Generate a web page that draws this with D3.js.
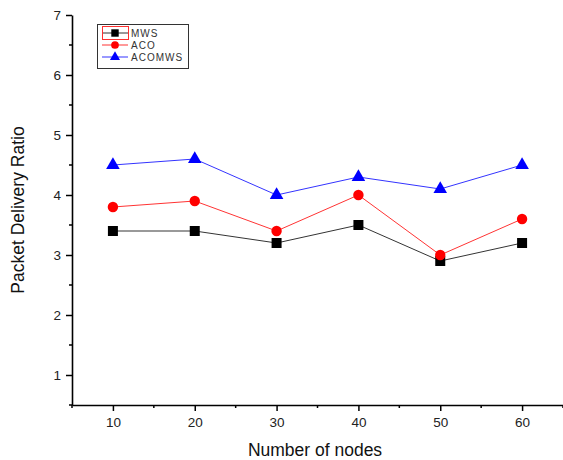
<!DOCTYPE html>
<html>
<head>
<meta charset="utf-8">
<script src="https://cdn.jsdelivr.net/npm/d3@7"></script>
<style>
  body { margin: 0; background: #fff; }
  svg { display: block; font-family: Arial, "Liberation Sans", sans-serif; }
</style>
</head>
<body>
<svg id="chart" width="563" height="460"></svg>
<script>
// Packet delivery ratio per number of nodes
const nodes = [10, 20, 30, 40, 50, 60];
const mws = [3.4, 3.4, 3.2, 3.5, 2.9, 3.2];
const aco = [3.8, 3.9, 3.4, 4.0, 3.0, 3.6];
const acomws = [4.5, 4.6, 4.0, 4.3, 4.1, 4.5];
const seriesNames = ["MWS", "ACO", "ACOMWS"];
const xTicks = [10, 20, 30, 40, 50, 60];
const yTicks = [1, 2, 3, 4, 5, 6, 7];

const series = [
  { name: seriesNames[0], values: mws, color: "#000000", symbol: d3.symbolSquare, size: 100 },
  { name: seriesNames[1], values: aco, color: "#ff0000", symbol: d3.symbolCircle, size: 85 },
  { name: seriesNames[2], values: acomws, color: "#0000ff", symbol: d3.symbolTriangle, size: 80 }
];

const svg = d3.select("#chart");
const x = d3.scaleLinear().domain([5, 65]).range([72, 563]);
const y = d3.scaleLinear().domain([0.5, 7]).range([405, 15]);

// minor ticks
const g = svg.append("g");
const xMinor = d3.range(5, 66, 10);
const yMinor = d3.range(0.5, 7, 1);
g.selectAll(".xminor").data(xMinor).join("line")
  .attr("x1", d => x(d)).attr("x2", d => x(d))
  .attr("y1", y(0.5)).attr("y2", y(0.5) + 3)
  .attr("stroke", "#000").attr("stroke-width", 1.5);
g.selectAll(".yminor").data(yMinor).join("line")
  .attr("x1", x(5) - 3).attr("x2", x(5))
  .attr("y1", d => y(d)).attr("y2", d => y(d))
  .attr("stroke", "#000").attr("stroke-width", 1.5);

// axes
const xAxis = svg.append("g").attr("transform", `translate(0,${y(0.5)})`)
  .call(d3.axisBottom(x).tickValues(xTicks).tickFormat(d3.format("d"))
    .tickSize(6).tickSizeOuter(0).tickPadding(6));
const yAxis = svg.append("g").attr("transform", `translate(${x(5)},0)`)
  .call(d3.axisLeft(y).tickValues(yTicks).tickFormat(d3.format("d"))
    .tickSize(6).tickSizeOuter(0).tickPadding(5));
[xAxis, yAxis].forEach(a => {
  a.select(".domain").attr("stroke", "#000").attr("stroke-width", 1.6);
  a.selectAll(".tick line").attr("stroke", "#000").attr("stroke-width", 1.5);
  a.selectAll(".tick text").attr("fill", "#222").style("font-size", "13.5px")
    .style("font-family", "Arial, 'Liberation Sans', sans-serif");
});

// axis titles
svg.append("text").attr("x", 315).attr("y", 456).attr("text-anchor", "middle")
  .style("font-size", "17.5px").attr("fill", "#111").text("Number of nodes");
svg.append("text").attr("transform", "translate(24,210) rotate(-90)")
  .attr("text-anchor", "middle").style("font-size", "17.5px").attr("fill", "#111")
  .text("Packet Delivery Ratio");

// series lines and markers
const line = d3.line().x((d, i) => x(nodes[i])).y(d => y(d));
series.forEach(s => {
  svg.append("path").datum(s.values).attr("d", line)
    .attr("fill", "none").attr("stroke", s.color).attr("stroke-width", 1).attr("stroke-opacity", 0.8);
  svg.selectAll(null).data(s.values).join("path")
    .attr("transform", (d, i) => `translate(${x(nodes[i])},${y(d)})`)
    .attr("d", d3.symbol().type(s.symbol).size(s.size))
    .attr("fill", s.color);
});

// legend
const lg = svg.append("g");
lg.append("rect").attr("x", 97.5).attr("y", 24.5).attr("width", 91).attr("height", 44)
  .attr("fill", "#fff").attr("stroke", "#333").attr("stroke-width", 1);
series.forEach((s, i) => {
  const cy = 33 + i * 12;
  lg.append("line").attr("x1", 102).attr("x2", 128).attr("y1", cy).attr("y2", cy)
    .attr("stroke", s.color).attr("stroke-width", 1).attr("stroke-opacity", 0.8);
  lg.append("path").attr("transform", `translate(115,${cy})`)
    .attr("d", d3.symbol().type(s.symbol).size(s.size * 0.55)).attr("fill", s.color);
  lg.append("text").attr("x", 131).attr("y", cy + 3.5)
    .style("font-size", "10px").style("letter-spacing", "1px").attr("fill", "#333")
    .text(s.name);
});
// highlight frame around the first legend symbol
lg.append("rect").attr("x", 102.5).attr("y", 26.5).attr("width", 26).attr("height", 13)
  .attr("fill", "none").attr("stroke", "#ff3030").attr("stroke-width", 1);
</script>
</body>
</html>
